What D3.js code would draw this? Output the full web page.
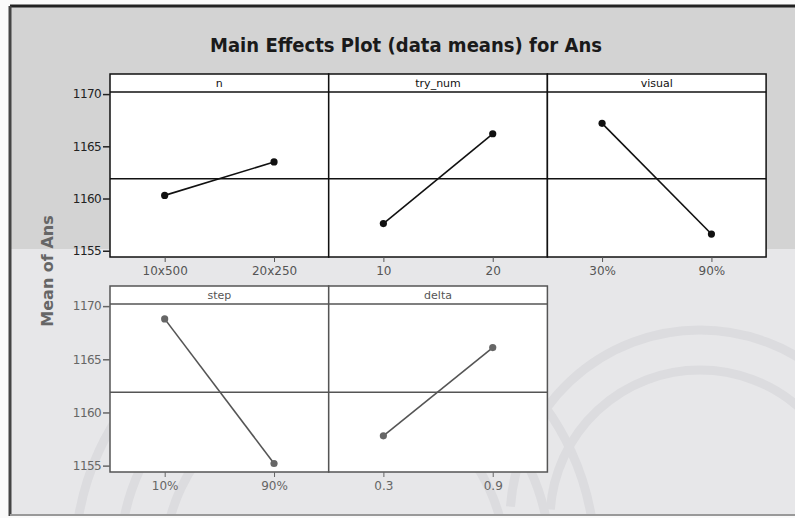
<!DOCTYPE html>
<html>
<head>
<meta charset="utf-8">
<script src="https://cdn.jsdelivr.net/npm/d3@7"></script>
<style>
  body { margin: 0; background: #fff; }
  svg { display: block; }
</style>
</head>
<body>
<div id="chart"></div>
<script>
// main effects data
const factors = ["n", "try_num", "visual", "step", "delta"];
const levels = [
    ["10x500", "20x250"],
    ["10", "20"],
    ["30%", "90%"],
    ["10%", "90%"],
    ["0.3", "0.9"]
];
const means = [
    [1160.3, 1163.5],
    [1157.6, 1166.2],
    [1167.2, 1156.6],
    [1168.8, 1155.2],
    [1157.8, 1166.1]
];
const grandMean = 1161.9;
const yTicks = [1155, 1160, 1165, 1170];

const width = 795, height = 518;
const panelLeft = 110, panelW = 218.7;
const stripH = 18;
// row layout: strip top, plot bottom, ink colours (bottom row is washed out in the scan)
const rows = [
    {top: 74, bottom: 257, ink: "#111", pt: "#111", tick: "#222", xtick: "#555"},
    {top: 286, bottom: 472, ink: "#555", pt: "#666", tick: "#666", xtick: "#666"}
];

const svg = d3.select("#chart").append("svg")
    .attr("width", width)
    .attr("height", height);

// scanned page background: darker band on top, lighter below
svg.append("rect").attr("x", 0).attr("y", 0).attr("width", width).attr("height", height).attr("fill", "#fafafa");
svg.append("rect").attr("x", 10).attr("y", 6).attr("width", width).attr("height", 243).attr("fill", "#d3d3d3");
svg.append("rect").attr("x", 10).attr("y", 249).attr("width", width).attr("height", 265).attr("fill", "#e7e7e9");

// faint watermark arches, kept inside the lighter band
svg.append("clipPath").attr("id", "band")
    .append("rect").attr("x", 10).attr("y", 249).attr("width", width).attr("height", 265);
const wm = svg.append("g").attr("clip-path", "url(#band)")
    .attr("fill", "none").attr("stroke", "#dcdcdf").attr("stroke-width", 9);
[[335, 560, 260], [335, 560, 215], [335, 560, 170], [700, 520, 190], [700, 520, 150]].forEach(a => {
    wm.append("path").attr("d", d3.arc()({innerRadius: a[2], outerRadius: a[2], startAngle: -1.5, endAngle: 1.5}))
        .attr("transform", `translate(${a[0]},${a[1]})`);
});

// frame of the figure
svg.append("line").attr("x1", 10).attr("x2", width).attr("y1", 6).attr("y2", 6).attr("stroke", "#222").attr("stroke-width", 3);
svg.append("line").attr("x1", 10).attr("x2", 10).attr("y1", 6).attr("y2", 516).attr("stroke", "#444").attr("stroke-width", 3);
svg.append("line").attr("x1", 10).attr("x2", width).attr("y1", 515).attr("y2", 515).attr("stroke", "#999").attr("stroke-width", 2);

svg.append("text")
    .attr("x", 406)
    .attr("y", 52)
    .attr("text-anchor", "middle")
    .attr("font-family", "DejaVu Sans")
    .attr("font-weight", "bold")
    .attr("font-size", 19)
    .attr("textLength", 392)
    .attr("lengthAdjust", "spacingAndGlyphs")
    .attr("fill", "#1a1a1a")
    .text("Main Effects Plot (data means) for Ans");

svg.append("text")
    .attr("transform", "translate(53,271) rotate(-90)")
    .attr("text-anchor", "middle")
    .attr("font-family", "DejaVu Sans")
    .attr("font-weight", "bold")
    .attr("font-size", 16)
    .attr("fill", "#666")
    .text("Mean of Ans");

factors.forEach((f, i) => {
    const row = rows[Math.floor(i / 3)];
    const col = i % 3;
    const x0 = panelLeft + col * panelW;
    const plotTop = row.top + stripH;

    const x = d3.scalePoint().domain(levels[i]).range([x0, x0 + panelW]).padding(0.5);
    const y = d3.scaleLinear().domain([1154.4, 1170.2]).range([row.bottom, plotTop]);

    const g = svg.append("g");

    g.append("rect")
        .attr("x", x0).attr("y", row.top)
        .attr("width", panelW).attr("height", row.bottom - row.top)
        .attr("fill", "#fff")
        .attr("stroke", row.ink).attr("stroke-width", 1.5);
    g.append("line")
        .attr("x1", x0).attr("x2", x0 + panelW)
        .attr("y1", plotTop).attr("y2", plotTop)
        .attr("stroke", row.ink).attr("stroke-width", 1.5);
    g.append("text")
        .attr("x", x0 + panelW / 2).attr("y", row.top + 13)
        .attr("text-anchor", "middle")
        .attr("font-family", "DejaVu Sans").attr("font-size", 11)
        .attr("fill", row.ink)
        .text(f);

    // grand mean reference line
    g.append("line")
        .attr("x1", x0).attr("x2", x0 + panelW)
        .attr("y1", y(grandMean)).attr("y2", y(grandMean))
        .attr("stroke", row.ink).attr("stroke-width", 1.5);

    const pts = levels[i].map((l, k) => ({lev: l, val: means[i][k]}));
    g.append("path")
        .datum(pts)
        .attr("fill", "none")
        .attr("stroke", row.ink).attr("stroke-width", 1.6)
        .attr("d", d3.line().x(d => x(d.lev)).y(d => y(d.val)));
    g.selectAll("circle").data(pts).enter().append("circle")
        .attr("cx", d => x(d.lev)).attr("cy", d => y(d.val))
        .attr("r", 3.6).attr("fill", row.pt);

    // x axis below the panel
    const xa = g.append("g")
        .attr("transform", `translate(0,${row.bottom})`)
        .call(d3.axisBottom(x).tickSize(5).tickPadding(4));
    xa.select(".domain").remove();
    xa.selectAll("line").attr("stroke", row.xtick);
    xa.selectAll("text").attr("font-family", "DejaVu Sans").attr("font-size", 12).attr("fill", row.xtick);

    // y axis on first column only
    if (col === 0) {
        const ya = g.append("g")
            .attr("transform", `translate(${x0},0)`)
            .call(d3.axisLeft(y).tickValues(yTicks).tickFormat(d3.format("d")).tickSize(7).tickPadding(2));
        ya.select(".domain").remove();
        ya.selectAll("line").attr("stroke", row.tick).attr("stroke-width", 1.5);
        ya.selectAll("text").attr("font-family", "DejaVu Sans").attr("font-size", 12)
            .attr("letter-spacing", -0.6).attr("fill", row.tick);
    }
});
</script>
</body>
</html>
